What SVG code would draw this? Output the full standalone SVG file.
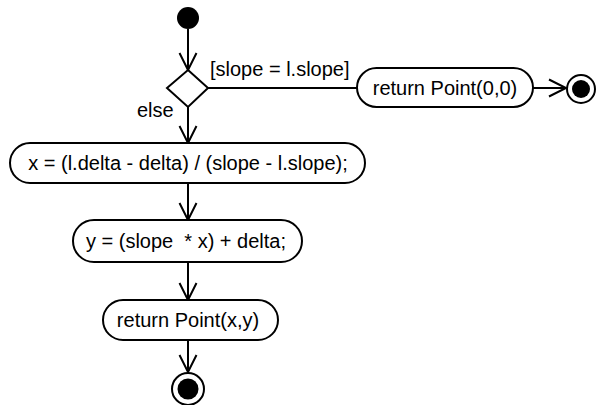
<svg xmlns="http://www.w3.org/2000/svg" width="598" height="405" viewBox="0 0 598 405">
  <defs>
    <marker id="open-arrow" markerUnits="userSpaceOnUse" markerWidth="24" markerHeight="24" viewBox="-20 -12 24 24" refX="0" refY="0" orient="auto">
      <path d="M-17,-8.5 L0,0 L-17,8.5" fill="none" stroke="#000" stroke-width="2"/>
    </marker>
  </defs>
  <style>
    .edge { fill: none; stroke: #000; stroke-width: 2; }
    .action { fill: #fff; stroke: #000; stroke-width: 2; }
    .decision { fill: #fff; stroke: #000; stroke-width: 2; }
    .ring { fill: #fff; stroke: #000; stroke-width: 2; }
    .dot { fill: #000; }
    text { font-family: "Liberation Sans", Arial, sans-serif; font-size: 20px; fill: #000; }
    .c { text-anchor: middle; }
  </style>
  <rect width="598" height="405" fill="#fff"/>

  <g id="connectors">
    <line class="edge" x1="188" y1="29" x2="188" y2="70" marker-end="url(#open-arrow)"/>
    <line class="edge" x1="208" y1="88" x2="357" y2="88"/>
    <line class="edge" x1="533" y1="88" x2="566" y2="88" marker-end="url(#open-arrow)"/>
    <line class="edge" x1="188" y1="107" x2="188" y2="143" marker-end="url(#open-arrow)"/>
    <line class="edge" x1="188" y1="183" x2="188" y2="220" marker-end="url(#open-arrow)"/>
    <line class="edge" x1="188" y1="262" x2="188" y2="300" marker-end="url(#open-arrow)"/>
    <line class="edge" x1="188" y1="340" x2="188" y2="372" marker-end="url(#open-arrow)"/>
    <text x="210" y="76">[slope = l.slope]</text>
    <text x="137" y="117">else</text>
  </g>

  <g id="start">
    <circle class="dot" cx="188" cy="18" r="11"/>
  </g>

  <g id="decision">
    <polygon class="decision" points="188,70 208,88 188,107 167,88"/>
  </g>

  <g id="return-origin">
    <rect class="action" x="357" y="68" width="176" height="39" rx="19.5"/>
    <text class="c" x="445" y="95">return Point(0,0)</text>
  </g>

  <g id="end-origin">
    <circle class="ring" cx="581" cy="89" r="14"/>
    <circle class="dot" cx="581" cy="89" r="9"/>
  </g>

  <g id="compute-x">
    <rect class="action" x="10" y="143" width="355" height="40" rx="20"/>
    <text class="c" x="188" y="170">x = (l.delta - delta) / (slope - l.slope);</text>
  </g>

  <g id="compute-y">
    <rect class="action" x="73" y="220" width="229" height="42" rx="21"/>
    <text class="c" x="186" y="248" xml:space="preserve">y = (slope  * x) + delta;</text>
  </g>

  <g id="return-point">
    <rect class="action" x="103" y="300" width="175" height="40" rx="20"/>
    <text class="c" x="188" y="327">return Point(x,y)</text>
  </g>

  <g id="end">
    <circle class="ring" cx="188" cy="389" r="16"/>
    <circle class="dot" cx="188" cy="389" r="10.5"/>
  </g>
</svg>
